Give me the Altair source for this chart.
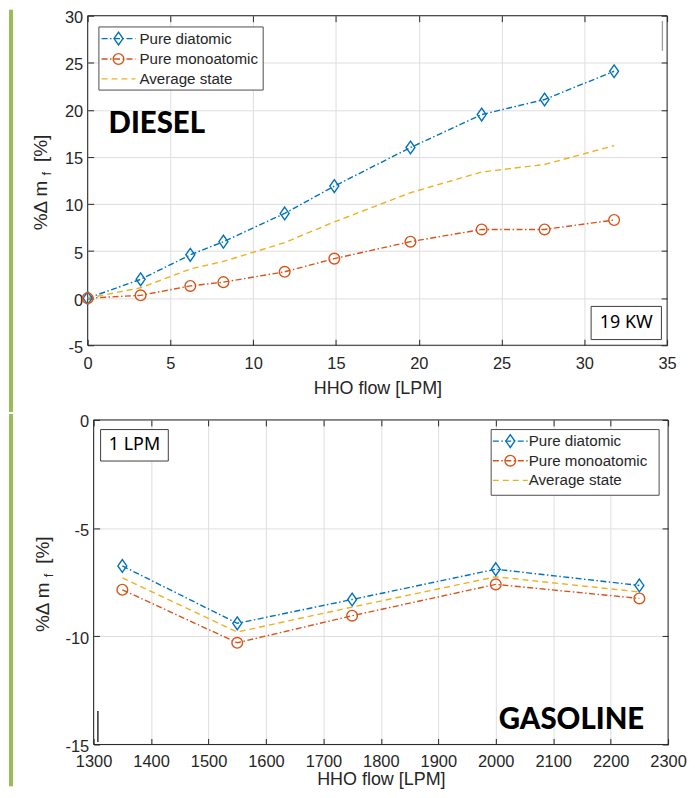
import altair as alt
import pandas as pd

# ---------------- data ----------------
series_names = ["Pure diatomic", "Pure monoatomic", "Average state"]

diesel_flow = [0.0, 3.2, 6.2, 8.2, 11.9, 14.9, 19.5, 23.8, 27.6, 31.8]
diesel_diatomic = [0.0, 2.0, 4.6, 6.0, 9.0, 11.9, 16.0, 19.5, 21.1, 24.1]
diesel_monoatomic = [0.0, 0.3, 1.3, 1.7, 2.8, 4.2, 6.0, 7.3, 7.3, 8.3]
diesel_average = [0.0, 1.1, 3.1, 3.9, 5.9, 8.1, 11.2, 13.4, 14.2, 16.2]

gas_flow = [1350, 1550, 1750, 2000, 2250]
gas_diatomic = [-6.75, -9.4, -8.3, -6.9, -7.65]
gas_monoatomic = [-7.85, -10.3, -9.05, -7.6, -8.25]
gas_average = [-7.3, -9.8, -8.65, -7.25, -7.95]

diesel_x_ticks = [0, 5, 10, 15, 20, 25, 30, 35]
diesel_y_ticks = [-5, 0, 5, 10, 15, 20, 25, 30]
gas_x_ticks = [1300, 1400, 1500, 1600, 1700, 1800, 1900, 2000, 2100, 2200, 2300]
gas_y_ticks = [-15, -10, -5, 0]

x_title = "HHO flow [LPM]"
y_title = ["%\u0394 m", "f", "[%]"]
diesel_label = "DIESEL"
gas_label = "GASOLINE"
diesel_box = "19 KW"
gas_box = "1 LPM"

# ---------------- styles ----------------
BLUE, ORANGE, YELLOW = "#0072BD", "#D95319", "#EDB120"
AX = "#262626"
GRID = "#dedede"
GREEN = "#9BBB59"
FONT = "Liberation Sans"
BOXFONT = "Noto Sans"
BIGFONT = "Lato"
DASHDOT = [6, 2.5, 1.5, 2.5]
DASH = [6, 4]
DIAMOND = "M0,-1L0.7,0L0,1L-0.7,0Z"
TICK = 6
LW = 1.4

color_scale = alt.Scale(domain=series_names, range=[BLUE, ORANGE, YELLOW])
dash_scale = alt.Scale(domain=series_names, range=[DASHDOT, DASHDOT, DASH])
shape_scale = alt.Scale(domain=series_names[:2], range=[DIAMOND, "circle"])
size_scale = alt.Scale(domain=series_names[:2], range=[165, 115])


def long_df(flow, vals_list):
    rows = []
    for name, vals in zip(series_names, vals_list):
        for f, v in zip(flow, vals):
            rows.append({"flow": f, "value": v, "series": name})
    return pd.DataFrame(rows)


def x_axis(values, label_pad, title_pad, title_x=None):
    kw = dict(
        orient="bottom", values=values, title=x_title, grid=True, domain=False,
        tickSize=TICK, offset=-TICK, tickColor=AX, tickWidth=1,
        labelColor=AX, labelFont=FONT, labelFontSize=16.5, labelPadding=label_pad,
        labelExpr="datum.value + ''", labelOverlap=False, labelFlush=False,
        gridColor=GRID, gridWidth=1, minExtent=0,
        titleColor=AX, titleFont=FONT, titleFontSize=18,
        titleFontWeight="normal", titlePadding=title_pad,
    )
    if title_x is not None:
        kw["titleX"] = title_x
    return alt.Axis(**kw)


def y_axis(values, offset):
    return alt.Axis(
        orient="left", values=values, title=None, grid=True, domain=False,
        tickSize=TICK, offset=offset, tickColor=AX, tickWidth=1,
        labelColor=AX, labelFont=FONT, labelFontSize=16.5, labelPadding=5,
        labelOffset=2, labelExpr="datum.value + ''", labelOverlap=False,
        labelFlush=False, gridColor=GRID, gridWidth=1, minExtent=0,
    )


def axis_mirror(orient, values):
    return alt.Axis(
        orient=orient, values=values, title=None, labels=False, grid=False,
        domain=False, tickSize=TICK, offset=-TICK, tickColor=AX, tickWidth=1,
        minExtent=0, maxExtent=0,
    )


def blank():
    return alt.Chart(alt.Data(values=[{}]))


def frame(x1, x2, h):
    return blank().mark_rect(fillOpacity=0, stroke=AX, strokeWidth=1).encode(
        x=alt.value(x1), x2=alt.value(x2), y=alt.value(0), y2=alt.value(h))


def data_layers(df, xs, ys, xaxis, yaxis, xticks, yticks):
    lines = alt.Chart(df).mark_line(strokeWidth=LW).encode(
        x=alt.X("flow:Q", scale=xs, axis=xaxis),
        y=alt.Y("value:Q", scale=ys, axis=yaxis),
        color=alt.Color("series:N", scale=color_scale, legend=None),
        strokeDash=alt.StrokeDash("series:N", scale=dash_scale, legend=None),
    )
    pts = alt.Chart(df).transform_filter(
        alt.FieldOneOfPredicate(field="series", oneOf=series_names[:2])
    ).mark_point(filled=False, strokeWidth=LW, opacity=1).encode(
        x=alt.X("flow:Q", scale=xs, axis=axis_mirror("top", xticks)),
        y=alt.Y("value:Q", scale=ys, axis=axis_mirror("right", yticks)),
        color=alt.Color("series:N", scale=color_scale, legend=None),
        shape=alt.Shape("series:N", scale=shape_scale, legend=None),
        size=alt.Size("series:N", scale=size_scale, legend=None),
    )
    return [lines, pts]


def legend_layers(box, rows_y, line_x, marker_x, text_x):
    x1, y1, x2, y2 = box
    layers = [blank().mark_rect(fill="white", stroke="#4d4d4d", strokeWidth=1).encode(
        x=alt.value(x1), x2=alt.value(x2), y=alt.value(y1), y2=alt.value(y2))]
    styles = [(BLUE, DASHDOT, DIAMOND, 165), (ORANGE, DASHDOT, "circle", 115), (YELLOW, DASH, None, None)]
    for name, y, (c, dash, shape, size) in zip(series_names, rows_y, styles):
        layers.append(blank().mark_rule(color=c, strokeDash=dash, strokeWidth=LW).encode(
            x=alt.value(line_x[0]), x2=alt.value(line_x[1]), y=alt.value(y)))
        if shape:
            layers.append(blank().mark_point(shape=shape, size=size, filled=False, color=c,
                                             strokeWidth=LW, opacity=1).encode(
                x=alt.value(marker_x), y=alt.value(y)))
        layers.append(blank().mark_text(text=name, align="left", baseline="middle", font=FONT,
                                        fontSize=15.2, color=AX).encode(
            x=alt.value(text_x), y=alt.value(y)))
    return layers


def ytitle_layers(x, c):
    kw = dict(angle=270, baseline="alphabetic", font=FONT, color=AX)
    return [
        blank().mark_text(text=y_title[0], align="left", fontSize=19, **kw).encode(
            x=alt.value(x), y=alt.value(c + 50)),
        blank().mark_text(text=y_title[1], align="left", fontSize=13, **kw).encode(
            x=alt.value(x + 4), y=alt.value(c - 5)),
        blank().mark_text(text=y_title[2], align="right", fontSize=19, **kw).encode(
            x=alt.value(x), y=alt.value(c - 46)),
    ]


def box_text_layers(box, text, cx, cy):
    x1, y1, x2, y2 = box
    return [
        blank().mark_rect(fill="white", stroke="#3c3c3c", strokeWidth=1).encode(
            x=alt.value(x1), x2=alt.value(x2), y=alt.value(y1), y2=alt.value(y2)),
        blank().mark_text(text=text, align="center", baseline="middle", font=BOXFONT,
                          fontSize=18, color="#000000").encode(x=alt.value(cx), y=alt.value(cy)),
    ]


def big_label(text, x, y):
    return blank().mark_text(text=text, align="left", baseline="alphabetic", font=BIGFONT,
                             fontSize=29.5, fontWeight=900, color="#000000").encode(
        x=alt.value(x), y=alt.value(y))


def green_bar(x, y1, y2):
    return blank().mark_rect(color=GREEN).encode(
        x=alt.value(x - 2), x2=alt.value(x + 2), y=alt.value(y1), y2=alt.value(y2))


def stray_line(x, y1, y2, color):
    return blank().mark_rule(color=color, strokeWidth=1.3).encode(
        x=alt.value(x), y=alt.value(y1), y2=alt.value(y2))


# ---------------- top panel (DIESEL) ----------------
W1, H1 = 582, 331
df1 = long_df(diesel_flow, [diesel_diatomic, diesel_monoatomic, diesel_average])
xs1 = alt.Scale(domain=[0, 35], nice=False, zero=False)
ys1 = alt.Scale(domain=[-5, 30], nice=False, zero=False)

top_layers = (
    [green_bar(-77, -6, H1 + 67), frame(0, W1, H1)]
    + data_layers(df1, xs1, ys1, x_axis(diesel_x_ticks, 10.5, 7), y_axis(diesel_y_ticks, -TICK),
                  diesel_x_ticks, diesel_y_ticks)
    + legend_layers((11.3, 11.3, 176.3, 74.7), [23, 43.5, 63.5], (14, 48), 31, 52)
    + [big_label(diesel_label, 21, 118)]
    + box_text_layers((505.7, 292, 576.3, 325.3), diesel_box, 541, 308.5)
    + ytitle_layers(-40.5, H1 / 2)
    + [stray_line(577.3, 5.3, 35.3, "#9a9a9a")]
)
top = alt.layer(*top_layers).resolve_axis(x="independent", y="independent").properties(
    width=W1, height=H1)

# ---------------- bottom panel (GASOLINE) ----------------
DX = 6                      # bottom frame starts 6 px right of the top frame
W2, H2 = 577 + DX, 326
df2 = long_df(gas_flow, [gas_diatomic, gas_monoatomic, gas_average])
xs2 = alt.Scale(domain=[1300, 2300], range=[DX, W2], nice=False, zero=False)
ys2 = alt.Scale(domain=[-15, 0], nice=False, zero=False)

bottom_layers = (
    [green_bar(-77, -6, H2 + 42), frame(DX, W2, H2)]
    + data_layers(df2, xs2, ys2, x_axis(gas_x_ticks, 9, 1, (DX + W2) / 2),
                  y_axis(gas_y_ticks, -TICK - DX), gas_x_ticks, gas_y_ticks)
    + legend_layers((399.3 + DX, 9.7, 568 + DX, 75.7), [21.3, 41, 60.7],
                    (401 + DX, 436 + DX), 418.5 + DX, 437 + DX)
    + [big_label(gas_label, 407 + DX, 310)]
    + box_text_layers((7 + DX, 9.7, 75 + DX, 41.3), gas_box, 41 + DX, 25.5)
    + ytitle_layers(-44.5 + DX, H2 / 2)
    + [stray_line(4.3 + DX, 292.5, 323.5, "#111111")]
)
bottom = alt.layer(*bottom_layers).resolve_axis(x="independent", y="independent").properties(
    width=W2, height=H2)

chart = alt.vconcat(top, bottom, spacing=0).configure_view(
    stroke="transparent"
).properties(padding={"left": 0, "top": -1, "right": 0, "bottom": 0})

chart.save("out.html", embed_options={"renderer": "svg", "actions": False})
